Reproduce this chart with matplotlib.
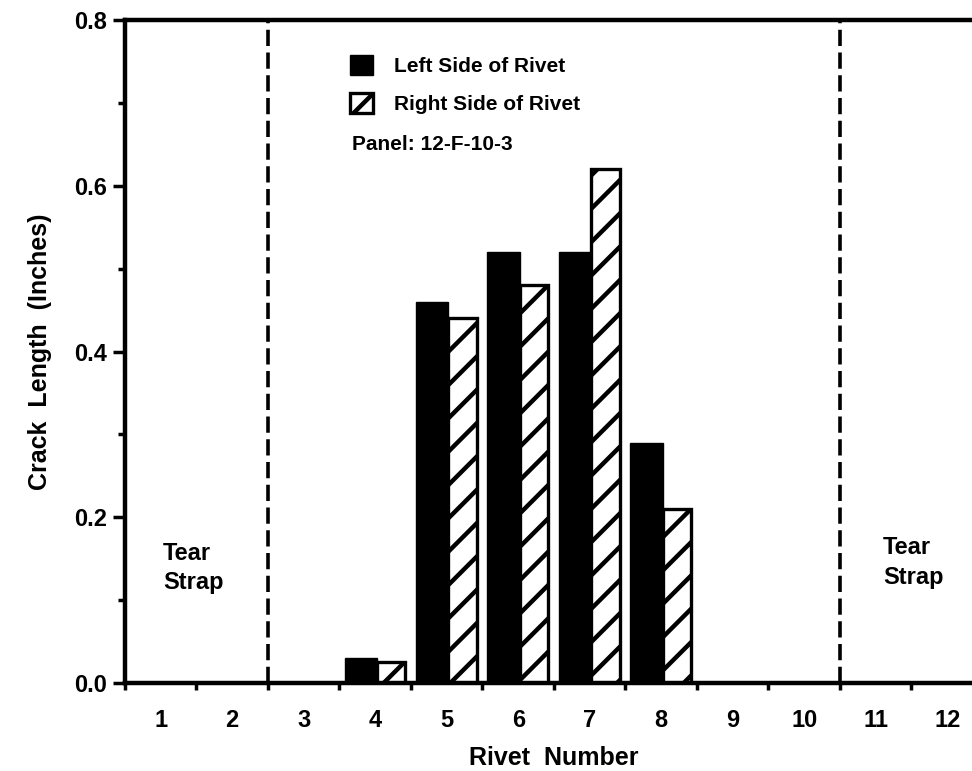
import numpy as np
import matplotlib
matplotlib.use('Agg')
import matplotlib.pyplot as plt

# Crack lengths, rivets 1..12.
rivets = np.arange(1, 13)
left_side = [0, 0, 0, 0.03, 0.46, 0.52, 0.52, 0.29, 0, 0, 0, 0]
right_side = [0, 0, 0, 0.025, 0.44, 0.48, 0.62, 0.21, 0, 0, 0, 0]
tear_strap_edges = [2.5, 10.5]
tick_labels = [str(r) for r in rivets]

plt.rcParams['font.family'] = ['Liberation Sans', 'DejaVu Sans']
plt.rcParams['font.weight'] = 'bold'
plt.rcParams['hatch.linewidth'] = 3.2

fig = plt.figure(figsize=(9.72, 7.71), dpi=100)
ax = fig.add_axes([0.1286, 0.1141, 0.8827, 0.8599])

# Left bar sits on the left half of each rivet slot, hatched one next to it.
ax.bar(rivets - 0.43, left_side, width=0.45, align='edge', color='black',
       edgecolor='black', linewidth=1, label='Left Side of Rivet')
ax.bar(rivets + 0.02, right_side, width=0.40, align='edge', color='white',
       edgecolor='black', linewidth=2.4, hatch='/', label='Right Side of Rivet')

for x in tear_strap_edges:
    ax.plot([x, x], [0, 0.8], color='black', lw=2.6, dashes=(4.5, 1.8))

ax.set_xlim(0.5, 12.5)
ax.set_ylim(0, 0.8)

# Major x ticks mark the slot boundaries, labels go on the slot centres.
ax.set_xticks(np.arange(0.5, 12.6, 1.0))
ax.set_xticklabels([])
ax.set_xticks(rivets, minor=True)
ax.set_xticklabels(tick_labels, minor=True, fontsize=17, fontweight='bold')
ax.tick_params(axis='x', which='major', direction='out', length=5, width=2.5)
ax.tick_params(axis='x', which='minor', length=0, pad=19)

ax.set_yticks([0.0, 0.2, 0.4, 0.6, 0.8])
ax.set_yticklabels(['0.0', '0.2', '0.4', '0.6', '0.8'], fontsize=17, fontweight='bold')
ax.set_yticks(np.arange(0.1, 0.8, 0.2), minor=True)
ax.tick_params(axis='y', which='major', direction='out', length=9, width=2.5, pad=4)
ax.tick_params(axis='y', which='minor', direction='out', length=5, width=2.5)

for side in ['left', 'top', 'bottom']:
    ax.spines[side].set_linewidth(3.2)
ax.spines['right'].set_visible(False)

ax.set_xlabel('Rivet  Number', fontsize=18, fontweight='bold', labelpad=10)
ax.set_ylabel('Crack  Length  (Inches)', fontsize=18, fontweight='bold', labelpad=16)

ax.text(1.03, 0.170, 'Tear\nStrap', fontsize=17, fontweight='bold', va='top',
        ha='left', linespacing=1.35)
ax.text(11.1, 0.177, 'Tear\nStrap', fontsize=17, fontweight='bold', va='top',
        ha='left', linespacing=1.35)

ax.legend(loc='upper left', bbox_to_anchor=(0.262, 0.947), frameon=False,
          handlelength=1.1, handleheight=1.1, handletextpad=1.0,
          labelspacing=0.8, borderpad=0, borderaxespad=0,
          prop={'weight': 'bold', 'size': 15})
ax.text(0.264, 0.8125, 'Panel: 12-F-10-3', transform=ax.transAxes,
        fontsize=15, fontweight='bold', va='center', ha='left')

plt.savefig('out.png', dpi=100)
plt.close()
